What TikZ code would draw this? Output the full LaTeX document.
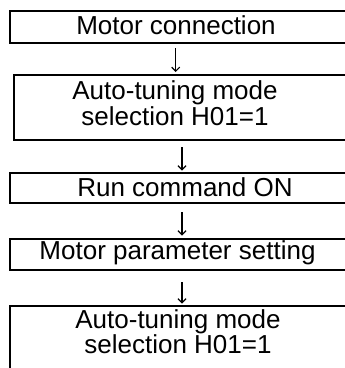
\documentclass[tikz,border=0pt]{standalone}
\usepackage{fontspec}
\newfontfamily\boxfont{Liberation Sans}
\usetikzlibrary{arrows.meta}
\begin{document}
\begin{tikzpicture}[x=1pt,y=-1pt,
  stepbox/.style={draw=black,line width=2pt,rectangle,inner sep=0pt,anchor=north west},
  txt/.style={font=\boxfont\fontsize{26}{25.5}\selectfont,align=center,inner sep=0pt},
  arr/.style={line width=1.2pt,-{Straight Barb[length=4pt,width=8pt,line width=1.2pt]}}]
\fill[white] (0,0) rectangle (345,368);
\useasboundingbox (0,0) rectangle (345,368);
\begin{scope}
\clip (0,0) rectangle (345,368);
\node[stepbox,minimum width=351pt,minimum height=32pt] (b1) at (9,10) {};
\node[stepbox,minimum width=346pt,minimum height=65pt] (b2) at (13.5,74) {};
\node[stepbox,minimum width=351pt,minimum height=30pt] (b3) at (9,172) {};
\node[stepbox,minimum width=351pt,minimum height=31pt] (b4) at (9,237.5) {};
\node[stepbox,minimum width=351pt,minimum height=80pt] (b5) at (9,305) {};
\end{scope}
\node[txt,anchor=base] (t1) at (176,34.3) {Motor connection};
\node[txt,anchor=center] (t2) at (175,103) {Auto-tuning mode\\selection H01=1};
\node[txt,anchor=base] (t3) at (185,196) {Run command ON};
\node[txt,anchor=base] (t4) at (177.5,259) {Motor parameter setting};
\node[txt,anchor=center] (t5) at (178,331.5) {Auto-tuning mode\\selection H01=1};
\coordinate (a1s) at (175.7,48);
\coordinate (a1e) at (175.7,72);
\coordinate (a2s) at (182,147);
\coordinate (a2e) at (182,170.5);
\coordinate (a3s) at (182,212);
\coordinate (a3e) at (182,235.5);
\coordinate (a4s) at (182,282);
\coordinate (a4e) at (182,303.5);
\draw[arr] (a1s) -- (a1e);
\draw[arr] (a2s) -- (a2e);
\draw[arr] (a3s) -- (a3e);
\draw[arr] (a4s) -- (a4e);
\end{tikzpicture}
\end{document}
